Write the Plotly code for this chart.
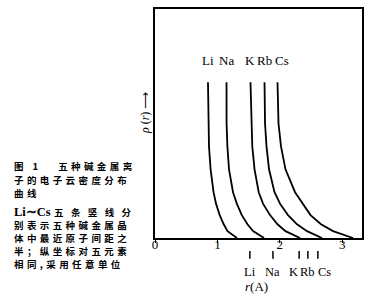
import plotly.graph_objects as go

# ---- data ----
elements = ["Li", "Na", "K", "Rb", "Cs"]
# half nearest-neighbour distance (Å), vertical markers under the axis
half_dist = [1.52, 1.89, 2.31, 2.45, 2.61]
# density levels (arbitrary units) at which the curves were read
rho_levels = [6.8, 5.0, 4.0, 3.0, 2.0, 1.5, 1.0, 0.6, 0.3, 0.0]
r_Li = [0.849, 0.853, 0.865, 0.891, 0.938, 0.978, 1.037, 1.101, 1.162, 1.314]
r_Na = [1.146, 1.147, 1.160, 1.186, 1.250, 1.311, 1.391, 1.482, 1.571, 1.747]
r_K = [1.530, 1.542, 1.559, 1.595, 1.662, 1.731, 1.843, 1.963, 2.091, 2.324]
r_Rb = [1.755, 1.763, 1.787, 1.827, 1.915, 2.003, 2.131, 2.276, 2.436, 2.676]
r_Cs = [1.963, 1.979, 2.019, 2.091, 2.244, 2.364, 2.492, 2.660, 2.853, 3.173]
curves = [r_Li, r_Na, r_K, r_Rb, r_Cs]
x_ticks = [0, 1, 2, 3]
x_tick_labels = ["0", "1", "2", "3"]
label_rho = 7.75
caption_lines = [
    "图\u00a01\u00a0\u00a0\u00a0五种碱金属离",
    "子的电子云密度分布",
    "曲线",
    "<b>Li∼Cs</b>",
    "别表示五种碱金属晶",
    "体中最近原子间距之",
    "半；纵坐标对五元素",
    "相同,采用任意单位",
]
caption_line4_tail = "五条竖线分"

W, H = 373, 300
L, R, T, B = 155, 11, 7, 62
pw, ph = W - L - R, H - T - B

def px2paper_x(px):
    return (px - L) / pw

def py2paper_y(py):
    return (H - B - py) / ph

serif = "Liberation Serif"
cjk = "Noto Sans CJK SC"
cap_font = dict(family=cjk, size=9.5, color="black", weight="bold")

fig = go.Figure()
for xs in curves:
    fig.add_trace(go.Scatter(x=xs, y=rho_levels, mode="lines",
                             line=dict(color="black", width=1.8),
                             hoverinfo="skip", showlegend=False))

annotations = []
# labels above the curves
top_shift = [0, 0, 0, 0, 4]
for el, xs, sh in zip(elements, curves, top_shift):
    annotations.append(dict(x=xs[0], y=label_rho, xref="x", yref="y", text=el,
                            showarrow=False, xshift=sh,
                            font=dict(family=serif, size=13, color="black"),
                            xanchor="center", yanchor="middle"))
# markers under axis
shapes = []
label_shift = [0, 0, -6, 0, 7]
for el, xv, sh in zip(elements, half_dist, label_shift):
    shapes.append(dict(type="line", xref="x", yref="paper", x0=xv, x1=xv,
                       y0=py2paper_y(251), y1=py2paper_y(259),
                       line=dict(color="black", width=1.5)))
    annotations.append(dict(x=xv, y=py2paper_y(272), xref="x", yref="paper", text=el,
                            showarrow=False, xshift=sh,
                            font=dict(family=serif, size=12.5, color="black"),
                            xanchor="center", yanchor="middle"))
annotations.append(dict(x=px2paper_x(256), y=py2paper_y(287), xref="paper", yref="paper",
                        text="<i>r</i>(A)", showarrow=False,
                        font=dict(family=serif, size=13, color="black"),
                        xanchor="center", yanchor="middle"))
# y axis title
annotations.append(dict(x=px2paper_x(145), y=py2paper_y(112), xref="paper", yref="paper",
                        text="<i>ρ</i> (<i>r</i>) ⟶", textangle=-90, showarrow=False,
                        font=dict(family=serif, size=12, color="black"),
                        xanchor="center", yanchor="middle"))
# caption, one annotation per printed line
cap_y = [165, 179, 192.5, 212, 225.1, 238.2, 251.4, 264.5]
for i, (line, yy) in enumerate(zip(caption_lines, cap_y)):
    if i == 3:
        annotations.append(dict(x=px2paper_x(12), y=py2paper_y(yy), xref="paper", yref="paper",
                                text=line, showarrow=False,
                                font=dict(family=serif, size=12.5, color="black"),
                                xanchor="left", yanchor="middle"))
        annotations.append(dict(x=px2paper_x(52), y=py2paper_y(yy), xref="paper", yref="paper",
                                text='<span style="letter-spacing:7.4px">' + caption_line4_tail + '</span>',
                                showarrow=False, font=cap_font,
                                xanchor="left", yanchor="middle"))
    else:
        annotations.append(dict(x=px2paper_x(12), y=py2paper_y(yy), xref="paper", yref="paper",
                                text='<span style="letter-spacing:3.4px">' + line + '</span>',
                                showarrow=False, font=cap_font,
                                xanchor="left", yanchor="middle"))

fig.update_layout(
    width=W, height=H,
    margin=dict(l=L, r=R, t=T, b=B, pad=0),
    paper_bgcolor="white", plot_bgcolor="white",
    xaxis=dict(range=[0, 3.317], tickvals=x_ticks, ticktext=x_tick_labels,
               showline=True, mirror=True, linecolor="black", linewidth=1.5,
               ticks="outside", ticklen=3, tickcolor="black", showgrid=False, zeroline=False,
               ticklabelstandoff=-9,
               tickfont=dict(family=serif, size=13, color="black")),
    yaxis=dict(range=[0, 10], showline=True, mirror=True, linecolor="black", linewidth=1.5,
               showticklabels=False, ticks="", showgrid=False, zeroline=False),
    annotations=annotations, shapes=shapes,
)
fig.write_html("out.html")
